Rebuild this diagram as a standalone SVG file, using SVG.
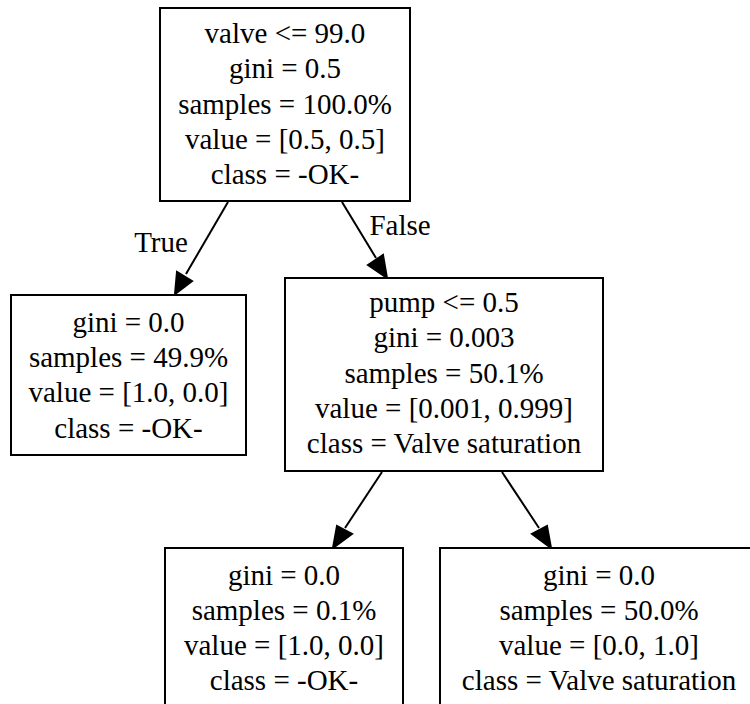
<svg xmlns="http://www.w3.org/2000/svg" width="750" height="704" viewBox="0 0 750 704">
  <style>
    .box { fill: #ffffff; stroke: #000000; stroke-width: 2; }
    .edge { fill: none; stroke: #000000; stroke-width: 2; }
    .head { fill: #000000; stroke: #000000; stroke-width: 2; }
    text { font-family: "Liberation Serif", "Times New Roman", serif; font-size: 29px; fill: #000000; text-anchor: middle; }
  </style>
  <rect width="750" height="704" fill="#ffffff"/>

  <g id="edges">
    <path class="edge" d="M228,202 L186,274"/>
    <polygon class="head" points="175,294 177,272 192,281"/>
    <text x="161" y="252">True</text>

    <path class="edge" d="M342,202 L376,258"/>
    <polygon class="head" points="387,278 368,265 383,255"/>
    <text x="400" y="235">False</text>

    <path class="edge" d="M382,472 L345,528"/>
    <polygon class="head" points="333,548 337,526 352,534"/>

    <path class="edge" d="M502,472 L539,528"/>
    <polygon class="head" points="551,548 532,534 547,526"/>
  </g>

  <g id="node0">
    <rect class="box" x="160" y="8" width="250" height="193"/>
    <text x="285" y="43">valve &lt;= 99.0</text>
    <text x="285" y="78">gini = 0.5</text>
    <text x="285" y="114">samples = 100.0%</text>
    <text x="285" y="149">value = [0.5, 0.5]</text>
    <text x="285" y="184">class = -OK-</text>
  </g>

  <g id="node1">
    <rect class="box" x="11" y="295" width="235" height="160"/>
    <text x="128.5" y="332">gini = 0.0</text>
    <text x="128.5" y="367">samples = 49.9%</text>
    <text x="128.5" y="402">value = [1.0, 0.0]</text>
    <text x="128.5" y="438">class = -OK-</text>
  </g>

  <g id="node2">
    <rect class="box" x="285" y="278" width="318" height="193"/>
    <text x="444" y="312">pump &lt;= 0.5</text>
    <text x="444" y="347">gini = 0.003</text>
    <text x="444" y="383">samples = 50.1%</text>
    <text x="444" y="418">value = [0.001, 0.999]</text>
    <text x="444" y="453">class = Valve saturation</text>
  </g>

  <g id="node3">
    <rect class="box" x="165" y="548" width="238" height="193"/>
    <text x="284" y="585">gini = 0.0</text>
    <text x="284" y="620">samples = 0.1%</text>
    <text x="284" y="655">value = [1.0, 0.0]</text>
    <text x="284" y="690">class = -OK-</text>
  </g>

  <g id="node4">
    <rect class="box" x="440" y="548" width="318" height="193"/>
    <text x="599" y="585">gini = 0.0</text>
    <text x="599" y="620">samples = 50.0%</text>
    <text x="599" y="655">value = [0.0, 1.0]</text>
    <text x="599" y="690">class = Valve saturation</text>
  </g>
</svg>
